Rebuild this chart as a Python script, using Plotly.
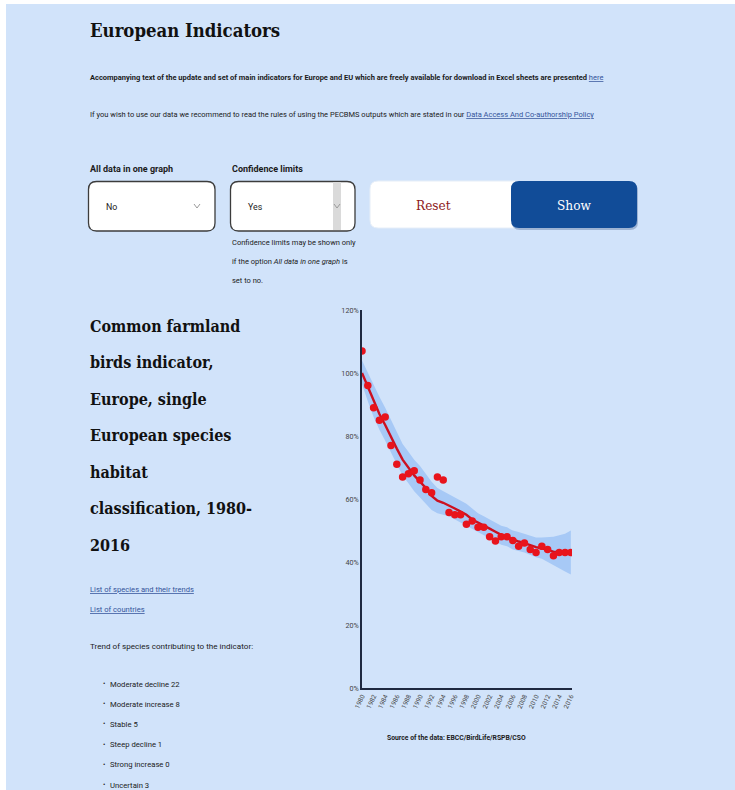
import plotly.graph_objects as go

W, H = 735, 790

# ---- indicator data -------------------------------------------------------
years = list(range(1980, 2017))
index_values = [107, 96, 89, 85, 86, 77, 71, 67, 68, 69, 66, 63, 62, 67, 66,
                55.7, 55, 55, 52, 53, 51, 51, 48, 46.7, 48, 48, 46.8, 45, 46,
                44, 43, 45, 44, 42, 43, 43, 43]
trend_values = [100, 95.5, 91, 87, 83.5, 80, 76, 72.5, 70, 67.5, 65.5, 63.5,
                61, 59.5, 58.8, 58, 57, 56, 55, 53.5, 52.6, 51.7, 50.6, 49.6,
                48.6, 48, 47.2, 46.5, 46, 45.3, 44.7, 44.3, 43.9, 43.3, 43.2,
                43.2, 43.2]
lower_limits = [96.5, 91, 86, 82, 78.5, 75, 71, 67.5, 65, 62.5, 60.5, 58.5,
                56.5, 55.5, 55, 54.5, 53.5, 52.5, 51.5, 50.5, 49.5, 48.5, 47.5,
                46.5, 45.5, 45, 44, 43.5, 43, 42.3, 41.5, 41, 40, 39, 38, 37, 36]
upper_limits = [104, 100, 96, 92.5, 89, 85, 81, 77.5, 75, 72.5, 70.5, 68,
                65.5, 63.5, 62.5, 61.5, 60.5, 59.5, 58.5, 57, 55.5, 54.5, 53.5,
                52.5, 51.5, 51, 50, 49.5, 49, 48.3, 47.8, 47.8, 47.8, 48, 48.5,
                49, 50]

year_ticks = list(range(1980, 2017, 2))
year_tick_labels = [str(y) for y in year_ticks]
pct_ticks = [0, 20, 40, 60, 80, 100, 120]
pct_tick_labels = ["0%", "20%", "40%", "60%", "80%", "100%", "120%"]

trend_classes = ["Moderate decline", "Moderate increase", "Stable",
                 "Steep decline", "Strong increase", "Uncertain"]
trend_counts = [22, 8, 5, 1, 0, 3]

heading_lines = ["Common farmland", "birds indicator,", "Europe, single",
                 "European species", "habitat", "classification, 1980-",
                 "2016"]

# ---- styling ----------------------------------------------------------------
BG = "#D1E3FA"
TEXT = "#1b1b1b"
LINK = "#34549a"
BODY_FONT = "Roboto, Liberation Sans, sans-serif"
SLAB_FONT = "DejaVu Serif Condensed, DejaVu Serif, serif"


def px(x):
    return x / W


def py(y):
    return 1 - y / H


def rounded_rect(x0, y0, x1, y1, r):
    pts = [
        f"M {px(x0 + r)},{py(y0)}",
        f"L {px(x1 - r)},{py(y0)}",
        f"Q {px(x1)},{py(y0)} {px(x1)},{py(y0 + r)}",
        f"L {px(x1)},{py(y1 - r)}",
        f"Q {px(x1)},{py(y1)} {px(x1 - r)},{py(y1)}",
        f"L {px(x0 + r)},{py(y1)}",
        f"Q {px(x0)},{py(y1)} {px(x0)},{py(y1 - r)}",
        f"L {px(x0)},{py(y0 + r)}",
        f"Q {px(x0)},{py(y0)} {px(x0 + r)},{py(y0)}",
        "Z",
    ]
    return " ".join(pts)


annotations = []


def text(x, y, s, size, family=BODY_FONT, color=TEXT, anchor="left"):
    annotations.append(dict(
        x=px(x), y=py(y), xref="paper", yref="paper", text=s,
        showarrow=False, xanchor=anchor, yanchor="middle",
        font=dict(family=family, size=size, color=color),
    ))


def link(s):
    return (f'<span style="text-decoration:underline;color:{LINK}">'
            f'{s}</span>')


fig = go.Figure()

# confidence band
fig.add_trace(go.Scatter(
    x=years + years[::-1], y=upper_limits + lower_limits[::-1],
    fill="toself", fillcolor="#A7C9F6", line=dict(width=0),
    mode="lines", hoverinfo="skip",
))
# smoothed trend
fig.add_trace(go.Scatter(
    x=years, y=trend_values, mode="lines",
    line=dict(color="#CC1020", width=2.4),
))
# yearly indices
fig.add_trace(go.Scatter(
    x=years, y=index_values, mode="markers",
    marker=dict(color="#E8141C", size=7.5),
))

shapes = [
    # page frame
    dict(type="rect", xref="paper", yref="paper", x0=0, x1=1,
         y0=py(4), y1=1, fillcolor="white", line_width=0, layer="below"),
    dict(type="rect", xref="paper", yref="paper", x0=0, x1=px(6),
         y0=0, y1=1, fillcolor="white", line_width=0, layer="below"),
    # select boxes
    dict(type="path", xref="paper", yref="paper",
         path=rounded_rect(88.5, 181.5, 215, 231, 8),
         fillcolor="white", line=dict(color="#3c3c3c", width=1.3)),
    dict(type="path", xref="paper", yref="paper",
         path=rounded_rect(230.5, 181.5, 355, 231, 8),
         fillcolor="white", line=dict(color="#3c3c3c", width=1.3)),
    dict(type="rect", xref="paper", yref="paper",
         x0=px(333), x1=px(341), y0=py(230), y1=py(182),
         fillcolor="#DADADA", line_width=0),
    # chevrons
    dict(type="path", xref="paper", yref="paper",
         path=f"M {px(194)},{py(204)} L {px(197)},{py(208)} L {px(200)},{py(204)}",
         line=dict(color="#9a9a9a", width=1)),
    dict(type="path", xref="paper", yref="paper",
         path=f"M {px(334)},{py(204)} L {px(337)},{py(208)} L {px(340)},{py(204)}",
         line=dict(color="#9a9a9a", width=1)),
    # buttons
    dict(type="path", xref="paper", yref="paper",
         path=rounded_rect(370, 181, 524, 228, 8),
         fillcolor="white", line=dict(color="#E6EEF8", width=1)),
    dict(type="path", xref="paper", yref="paper",
         path=rounded_rect(512, 183, 638, 230, 8),
         fillcolor="#9DB3D3", line_width=0),
    dict(type="path", xref="paper", yref="paper",
         path=rounded_rect(511, 181, 637, 228, 8),
         fillcolor="#114C98", line_width=0),
]

# ---- page text --------------------------------------------------------------
text(88, 31, "<b>European Indicators</b>", 18.4, SLAB_FONT, "#111111")
text(88, 78, "<b>Accompanying text of the update and set of main indicators "
     "for Europe and EU which are freely available for download in Excel "
     "sheets are presented </b>" + link("here"), 7.5)
text(88, 114, "If you wish to use our data we recommend to read the rules of "
     "using the PECBMS outputs which are stated in our "
     + link("Data Access And Co-authorship Policy"), 7.5)

text(88, 169, "<b>All data in one graph</b>", 9)
text(230, 169, "<b>Confidence limits</b>", 9)
text(104, 207, "No", 8.8)
text(246, 207, "Yes", 8.8)
text(433, 205, "Reset", 13.5, SLAB_FONT, "#8E1B1B", anchor="center")
text(574, 205, "Show", 13.5, SLAB_FONT, "white", anchor="center")
text(230, 242, "Confidence limits may be shown only", 7.5)
text(230, 261, "if the option <i>All data in one graph</i> is", 7.5)
text(230, 280, "set to no.", 7.5)

for i, line in enumerate(heading_lines):
    text(88, 326 + i * 36.5, f"<b>{line}</b>", 16, SLAB_FONT, "#111111")

text(88, 589, link("List of species and their trends"), 7.6)
text(88, 609, link("List of countries"), 7.6)
text(88, 646, "Trend of species contributing to the indicator:", 8.1)
for i, (cls, n) in enumerate(zip(trend_classes, trend_counts)):
    y = 684 + i * 20.2
    text(101, y, "•", 7)
    text(108, y, f"{cls} {n}", 7.7)

text(456, 738, "<b>Source of the data: EBCC/BirdLife/RSPB/CSO</b>", 6.8,
     anchor="center")

fig.update_layout(
    width=W, height=H,
    margin=dict(l=0, r=0, t=0, b=0, pad=0),
    paper_bgcolor=BG, plot_bgcolor="rgba(0,0,0,0)",
    showlegend=False,
    font=dict(family=BODY_FONT, color=TEXT),
    shapes=shapes, annotations=annotations,
    xaxis=dict(
        domain=[px(362), px(572)], range=[1980, 2016.2],
        showline=True, linecolor="#1f2940", linewidth=2,
        showgrid=False, zeroline=False, ticks="",
        tickmode="array", tickvals=year_ticks, ticktext=year_tick_labels,
        tickangle=-65, tickfont=dict(size=6.5, color="#444"),
        automargin=False, fixedrange=True,
    ),
    yaxis=dict(
        domain=[py(688), py(310)], range=[0, 120],
        showline=True, linecolor="#1f2940", linewidth=1.6,
        showgrid=False, zeroline=False, ticks="",
        tickmode="array", tickvals=pct_ticks, ticktext=pct_tick_labels,
        tickfont=dict(size=7.2, color="#444"),
        automargin=False, fixedrange=True,
    ),
)

fig.write_html("out.html")
